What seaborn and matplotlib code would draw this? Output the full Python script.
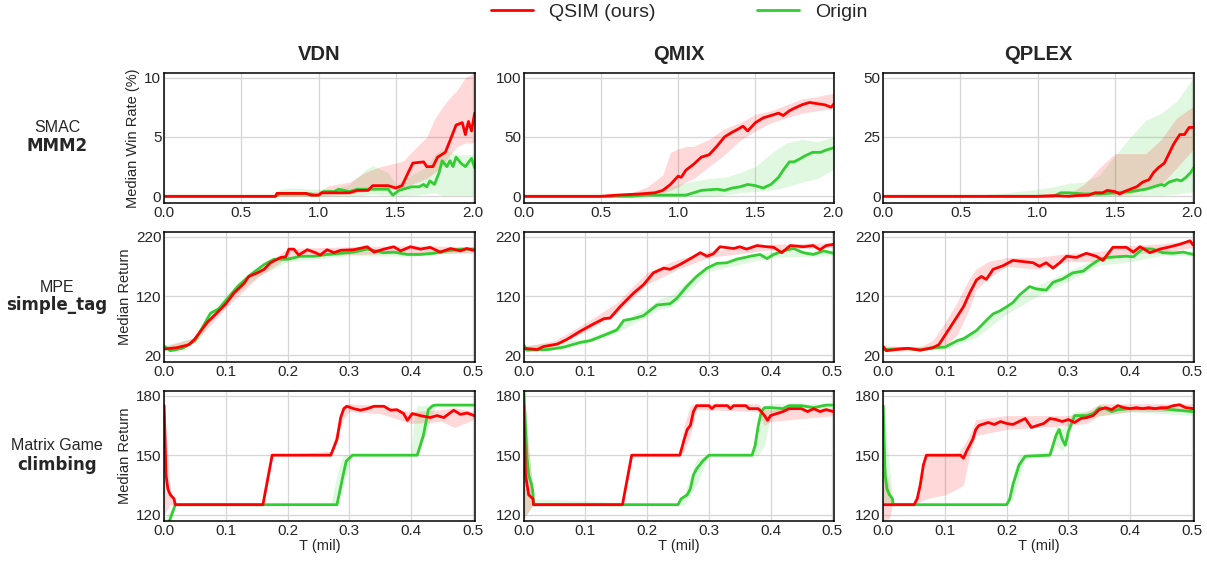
import matplotlib
matplotlib.use("Agg")
import matplotlib.pyplot as plt
from matplotlib.lines import Line2D
import seaborn as sns

# ---------------- SMAC MMM2 (x in mil steps, win rate %) ----------------
smac_vdn_qsim_x = [0, 0.72, 0.73, 0.92, 0.95, 1.0, 1.02, 1.2, 1.25, 1.32, 1.35, 1.45, 1.5, 1.54, 1.58, 1.61,
                   1.68, 1.70, 1.74, 1.77, 1.82, 1.86, 1.89, 1.93, 1.95, 1.97, 1.99, 2.01]
smac_vdn_qsim_y = [0, 0, 0.25, 0.25, 0.1, 0.1, 0.3, 0.3, 0.5, 0.5, 0.9, 0.9, 0.7, 0.9, 2.0, 2.8,
                   2.9, 2.5, 2.5, 3.3, 3.7, 5.0, 6.0, 6.2, 5.2, 6.3, 5.5, 7.0]
smac_vdn_qsim_bx = [0.72, 1.0, 1.07, 1.2, 1.3, 1.4, 1.5, 1.55, 1.6, 1.7, 1.75, 1.8, 1.85, 1.9, 1.95, 2.01]
smac_vdn_qsim_lo = [0, 0.05, 0.1, 0.2, 0.4, 0.6, 0.6, 0.7, 1.0, 1.5, 2.0, 2.5, 3.5, 4.2, 4.5, 4.5]
smac_vdn_qsim_hi = [0.3, 0.4, 0.9, 1.2, 2.0, 2.5, 2.8, 3.0, 3.7, 5.0, 6.5, 7.5, 8.3, 9.0, 10.0, 10.4]
smac_vdn_orig_x = [0, 0.72, 0.75, 0.95, 0.97, 1.0, 1.03, 1.1, 1.13, 1.2, 1.25, 1.45, 1.48, 1.52, 1.6,
                   1.65, 1.68, 1.7, 1.72, 1.75, 1.78, 1.8, 1.83, 1.85, 1.87, 1.89, 1.92, 1.95, 1.99, 2.01]
smac_vdn_orig_y = [0, 0, 0.2, 0.2, 0.1, 0.1, 0.4, 0.4, 0.6, 0.4, 0.6, 0.6, 0.1, 0.5, 0.8,
                   0.8, 1.0, 0.8, 1.3, 1.0, 2.0, 3.0, 2.5, 3.0, 2.5, 3.3, 2.8, 2.5, 3.2, 2.4]
smac_vdn_orig_bx = [0.72, 0.75, 0.8, 1.0, 1.1, 1.2, 1.3, 1.35, 1.45, 1.5, 1.6, 1.7, 1.75, 1.8, 1.9, 2.01]
smac_vdn_orig_lo = [0, 0, 0, 0, 0, 0, 0.1, 0.2, 0.1, 0, 0.1, 0.2, 0.3, 0.1, 0.1, 0.1]
smac_vdn_orig_hi = [0.2, 0.6, 0.7, 0.6, 0.6, 1.0, 2.2, 2.6, 2.0, 1.0, 1.8, 2.5, 3.5, 4.0, 3.5, 3.5]

smac_qmix_qsim_x = [0, 0.5, 0.6, 0.75, 0.85, 0.9, 0.95, 1.0, 1.02, 1.05, 1.1, 1.15, 1.2, 1.25, 1.3, 1.35,
                    1.38, 1.42, 1.45, 1.5, 1.55, 1.6, 1.65, 1.68, 1.72, 1.75, 1.8, 1.85, 1.9, 1.95, 1.99, 2.01]
smac_qmix_qsim_y = [0, 0, 1, 2, 3, 5, 10, 17, 16, 22, 27, 33, 35, 42, 50, 54,
                    56, 59, 55, 62, 66, 68, 70, 68, 72, 74, 77, 79, 78, 77, 75, 78]
smac_qmix_qsim_bx = [0.5, 0.7, 0.8, 0.9, 0.95, 1.0, 1.05, 1.1, 1.2, 1.3, 1.4, 1.5, 1.6, 1.7, 1.8, 1.9, 2.01]
smac_qmix_qsim_lo = [0, 0.5, 1, 3, 5, 8, 12, 15, 25, 35, 47, 55, 62, 66, 70, 72, 74]
smac_qmix_qsim_hi = [0.5, 3, 8, 18, 37, 40, 42, 42, 48, 57, 62, 69, 72, 77, 82, 84, 87]
smac_qmix_orig_x = [0, 0.7, 0.8, 1.05, 1.1, 1.15, 1.25, 1.3, 1.35, 1.4, 1.45, 1.5, 1.55, 1.6, 1.65,
                    1.68, 1.72, 1.75, 1.78, 1.82, 1.87, 1.92, 1.96, 2.01]
smac_qmix_orig_y = [0, 0, 1, 1, 3, 5, 6, 5, 7, 8, 10, 9, 7, 10, 16, 22, 29, 29, 31, 34, 37, 37, 39, 41]
smac_qmix_orig_bx = [0.6, 0.7, 0.8, 0.9, 1.0, 1.1, 1.2, 1.3, 1.4, 1.5, 1.6, 1.7, 1.8, 1.9, 2.01]
smac_qmix_orig_lo = [0, 0, 0, 0, 0, 0, 0, 1, 3, 4, 5, 8, 12, 15, 23]
smac_qmix_orig_hi = [0.5, 1, 4, 6, 10, 13, 15, 16, 20, 25, 36, 45, 48, 46, 50]

smac_qplex_qsim_x = [0, 1.0, 1.1, 1.2, 1.25, 1.33, 1.37, 1.42, 1.45, 1.5, 1.53, 1.56, 1.6, 1.64, 1.68,
                     1.72, 1.75, 1.78, 1.82, 1.85, 1.88, 1.92, 1.95, 1.98, 2.01]
smac_qplex_qsim_y = [0, 0, 0.3, 0, 0.3, 0.5, 1.5, 1.5, 2.5, 2.0, 1.0, 2.0, 3, 4, 6,
                     7, 10, 12, 14, 18, 22, 26, 26, 29, 29]
smac_qplex_qsim_bx = [1.1, 1.2, 1.3, 1.4, 1.5, 1.6, 1.7, 1.8, 1.9, 2.01]
smac_qplex_qsim_lo = [0, 0, 0, 0.3, 0.5, 1, 3, 5, 12, 20]
smac_qplex_qsim_hi = [0.3, 1, 5, 12, 18, 18, 18, 24, 33, 38]
smac_qplex_orig_x = [0, 1.1, 1.15, 1.2, 1.3, 1.4, 1.5, 1.6, 1.7, 1.75, 1.8, 1.82, 1.85, 1.9, 1.93, 1.96, 1.99, 2.01]
smac_qplex_orig_y = [0, 0, 1.5, 1.5, 1.0, 1.0, 1.5, 2, 3, 4, 5, 4.5, 6, 7, 6.5, 8, 10, 12]
smac_qplex_orig_bx = [0.6, 0.8, 1.0, 1.1, 1.2, 1.3, 1.4, 1.5, 1.6, 1.7, 1.8, 1.9, 2.01]
smac_qplex_orig_lo = [0, 0, 0, 0, 0, 0, 0, 0, 0, 0.5, 0.5, 1, 2]
smac_qplex_orig_hi = [0.5, 1.5, 3, 4, 5.5, 6, 9, 17, 25, 32, 35, 40, 50]

# ---------------- MPE simple_tag (median return) ----------------
mpe_vdn_qsim_x = [0, 0.02, 0.04, 0.049, 0.07, 0.081, 0.1, 0.113, 0.13, 0.137, 0.151, 0.162, 0.172, 0.189,
                  0.197, 0.202, 0.21, 0.218, 0.232, 0.245, 0.253, 0.264, 0.275, 0.286, 0.307, 0.329, 0.34,
                  0.356, 0.372, 0.383, 0.399, 0.415, 0.431, 0.447, 0.464, 0.48, 0.49, 0.502]
mpe_vdn_qsim_y = [31, 33, 38, 47, 76, 87, 107, 125, 142, 153, 159, 165, 176, 185,
                  186, 199, 199, 189, 198, 193, 189, 198, 193, 197, 198, 203, 194,
                  199, 203, 196, 203, 199, 202, 194, 200, 196, 200, 197]
mpe_vdn_qsim_bx = [0, 0.05, 0.1, 0.15, 0.2, 0.3, 0.4, 0.502]
mpe_vdn_qsim_lo = [28, 42, 100, 150, 185, 190, 192, 192]
mpe_vdn_qsim_hi = [35, 50, 112, 162, 200, 203, 205, 203]
mpe_vdn_orig_x = [0, 0.01, 0.03, 0.05, 0.075, 0.089, 0.119, 0.14, 0.162, 0.178, 0.2, 0.221, 0.243, 0.264,
                  0.286, 0.307, 0.329, 0.356, 0.372, 0.394, 0.415, 0.437, 0.458, 0.48, 0.502]
mpe_vdn_orig_y = [36, 28, 32, 45, 91, 99, 136, 156, 173, 182, 182, 187, 187, 190,
                  192, 194, 199, 193, 194, 190, 190, 192, 196, 199, 199]
mpe_vdn_orig_bx = [0, 0.05, 0.1, 0.15, 0.2, 0.3, 0.4, 0.502]
mpe_vdn_orig_lo = [27, 42, 110, 152, 178, 188, 187, 195]
mpe_vdn_orig_hi = [37, 50, 122, 165, 186, 196, 194, 202]

mpe_qmix_qsim_x = [0, 0.022, 0.032, 0.054, 0.07, 0.092, 0.113, 0.13, 0.14, 0.156, 0.178, 0.194, 0.21,
                   0.227, 0.237, 0.253, 0.275, 0.286, 0.297, 0.307, 0.318, 0.34, 0.35, 0.361, 0.378,
                   0.394, 0.405, 0.418, 0.432, 0.453, 0.469, 0.48, 0.49, 0.502]
mpe_qmix_qsim_y = [32, 30, 35, 39, 47, 61, 73, 82, 83, 102, 125, 139, 159,
                   167, 165, 173, 186, 193, 187, 191, 203, 200, 203, 199, 205,
                   203, 202, 193, 205, 203, 205, 198, 205, 207]
mpe_qmix_qsim_bx = [0, 0.05, 0.1, 0.15, 0.2, 0.25, 0.3, 0.4, 0.502]
mpe_qmix_qsim_lo = [29, 36, 60, 90, 140, 165, 185, 198, 202]
mpe_qmix_qsim_hi = [35, 45, 75, 108, 160, 182, 195, 207, 210]
mpe_qmix_orig_x = [0, 0.005, 0.04, 0.065, 0.092, 0.108, 0.135, 0.151, 0.162, 0.178, 0.194, 0.205, 0.216,
                   0.237, 0.248, 0.264, 0.28, 0.297, 0.313, 0.329, 0.345, 0.367, 0.383, 0.394, 0.405,
                   0.421, 0.437, 0.453, 0.469, 0.486, 0.502]
mpe_qmix_orig_y = [38, 29, 30, 34, 42, 45, 56, 63, 79, 82, 87, 96, 105,
                   107, 116, 136, 153, 167, 175, 176, 182, 187, 190, 183, 190,
                   196, 200, 193, 190, 196, 192]
mpe_qmix_orig_bx = [0, 0.1, 0.15, 0.18, 0.2, 0.22, 0.24, 0.26, 0.3, 0.4, 0.502]
mpe_qmix_orig_lo = [28, 40, 58, 75, 85, 98, 102, 120, 162, 185, 188]
mpe_qmix_orig_hi = [36, 48, 68, 90, 100, 115, 122, 140, 172, 195, 196]

mpe_qplex_qsim_x = [0, 0.005, 0.02, 0.04, 0.06, 0.08, 0.09, 0.112, 0.13, 0.14, 0.151, 0.159, 0.167, 0.178,
                    0.194, 0.21, 0.227, 0.243, 0.253, 0.264, 0.275, 0.286, 0.297, 0.313, 0.329, 0.345,
                    0.356, 0.372, 0.394, 0.405, 0.416, 0.432, 0.448, 0.465, 0.48, 0.497, 0.502]
mpe_qplex_qsim_y = [35, 28, 30, 32, 29, 33, 38, 73, 102, 125, 147, 153, 148, 165,
                    171, 180, 178, 176, 170, 176, 167, 176, 187, 185, 192, 187,
                    180, 202, 202, 194, 203, 193, 199, 203, 207, 213, 206]
mpe_qplex_qsim_bx = [0, 0.06, 0.08, 0.1, 0.12, 0.14, 0.15, 0.17, 0.2, 0.25, 0.3, 0.35, 0.4, 0.45, 0.502]
mpe_qplex_qsim_lo = [27, 28, 30, 35, 55, 100, 130, 150, 170, 165, 178, 178, 192, 192, 202]
mpe_qplex_qsim_hi = [36, 35, 45, 75, 110, 150, 165, 178, 185, 185, 192, 195, 205, 208, 214]
mpe_qplex_orig_x = [0, 0.04, 0.06, 0.08, 0.1, 0.12, 0.13, 0.151, 0.167, 0.178, 0.189, 0.2, 0.21, 0.221,
                    0.237, 0.248, 0.264, 0.275, 0.291, 0.307, 0.324, 0.335, 0.351, 0.362, 0.378, 0.394,
                    0.405, 0.421, 0.437, 0.453, 0.469, 0.486, 0.502]
mpe_qplex_orig_y = [30, 32, 29, 33, 34, 45, 48, 62, 79, 90, 95, 102, 109, 122,
                    136, 132, 130, 143, 149, 159, 162, 171, 182, 185, 186, 187,
                    186, 200, 199, 193, 192, 194, 190]
mpe_qplex_orig_bx = [0, 0.1, 0.12, 0.15, 0.2, 0.25, 0.3, 0.35, 0.4, 0.45, 0.502]
mpe_qplex_orig_lo = [28, 31, 38, 50, 90, 120, 145, 172, 178, 188, 188]
mpe_qplex_orig_hi = [33, 37, 48, 65, 105, 138, 162, 185, 192, 200, 194]

# ---------------- Matrix Game climbing (median return) ----------------
clb_vdn_qsim_x = [0, 0.003, 0.006, 0.01, 0.016, 0.018, 0.16, 0.175, 0.27, 0.28, 0.286, 0.291, 0.296,
                  0.307, 0.318, 0.329, 0.34, 0.356, 0.367, 0.377, 0.388, 0.394, 0.402, 0.415, 0.431,
                  0.442, 0.453, 0.469, 0.48, 0.491, 0.502]
clb_vdn_qsim_y = [175, 140, 133, 130, 128, 125, 125, 150, 150, 158, 169, 173.5, 174.7,
                  173.5, 172.7, 173.5, 174.7, 174.7, 172.7, 173, 171, 167.6, 171, 170, 169,
                  170, 169, 172.7, 170.6, 171.3, 170]
clb_vdn_qsim_bx = [0, 0.01, 0.018, 0.16, 0.175, 0.27, 0.29, 0.3, 0.35, 0.4, 0.45, 0.47, 0.502]
clb_vdn_qsim_lo = [120, 125, 125, 125, 150, 150, 168, 172, 171, 166, 167, 164, 168]
clb_vdn_qsim_hi = [176, 132, 125, 125, 150, 152, 175, 176, 175, 172, 173, 174, 172]
clb_vdn_orig_x = [0, 0.01, 0.018, 0.28, 0.29, 0.295, 0.305, 0.41, 0.42, 0.428, 0.435, 0.44, 0.502]
clb_vdn_orig_y = [110, 118, 125, 125, 140, 147, 150, 150, 160, 173, 175, 175.3, 175.3]
clb_vdn_orig_bx = [0, 0.018, 0.27, 0.28, 0.29, 0.305, 0.4, 0.405, 0.41, 0.42, 0.44, 0.502]
clb_vdn_orig_lo = [105, 125, 125, 125, 135, 150, 150, 150, 150, 158, 175, 175]
clb_vdn_orig_hi = [118, 125, 125, 140, 150, 150, 150, 170, 175, 175, 175.5, 175.5]

clb_qmix_qsim_x = [0, 0.003, 0.008, 0.015, 0.016, 0.16, 0.175, 0.253, 0.26, 0.265, 0.27, 0.275, 0.28,
                   0.3, 0.305, 0.31, 0.33, 0.335, 0.34, 0.36, 0.365, 0.38, 0.385, 0.39, 0.395, 0.4,
                   0.41, 0.42, 0.43, 0.44, 0.45, 0.46, 0.47, 0.48, 0.49, 0.502]
clb_qmix_qsim_y = [175, 140, 130, 128, 125, 125, 150, 150, 158, 163, 165, 172, 175,
                   175, 173.5, 175, 175, 173.5, 175, 175, 173.5, 173.5, 172, 170, 167.6, 170,
                   171, 172, 173.5, 173.5, 173.5, 172, 173.5, 172, 173, 172]
clb_qmix_qsim_bx = [0, 0.015, 0.016, 0.16, 0.175, 0.253, 0.26, 0.27, 0.28, 0.38, 0.39, 0.4, 0.502]
clb_qmix_qsim_lo = [118, 125, 125, 125, 150, 150, 152, 160, 173, 172, 165, 167, 170]
clb_qmix_qsim_hi = [176, 132, 125, 125, 150, 150, 165, 175, 176, 176, 173, 173, 174]
clb_qmix_orig_x = [0, 0.005, 0.008, 0.013, 0.015, 0.016, 0.25, 0.255, 0.265, 0.27, 0.275, 0.28, 0.29,
                   0.3, 0.37, 0.375, 0.38, 0.385, 0.39, 0.4, 0.42, 0.43, 0.45, 0.47, 0.49, 0.502]
clb_qmix_orig_y = [185, 150, 140, 135, 131, 125, 125, 128, 130, 133, 140, 143, 147,
                   150, 150, 155, 165, 172, 174, 174, 173.5, 175, 175, 174, 175.3, 175.3]
clb_qmix_orig_bx = [0, 0.016, 0.25, 0.26, 0.28, 0.3, 0.37, 0.38, 0.39, 0.4, 0.42, 0.502]
clb_qmix_orig_lo = [118, 125, 125, 125, 135, 150, 150, 150, 155, 170, 173, 174]
clb_qmix_orig_hi = [185, 128, 125, 130, 148, 150, 150, 165, 175, 176, 176, 176]

clb_qplex_qsim_x = [0, 0.05, 0.055, 0.06, 0.065, 0.07, 0.125, 0.13, 0.135, 0.14, 0.145, 0.15, 0.155,
                    0.17, 0.18, 0.19, 0.2, 0.21, 0.22, 0.23, 0.24, 0.25, 0.26, 0.27, 0.28, 0.29, 0.3,
                    0.31, 0.32, 0.33, 0.34, 0.35, 0.36, 0.37, 0.38, 0.39, 0.4, 0.41, 0.42, 0.43, 0.44,
                    0.45, 0.46, 0.47, 0.48, 0.49, 0.502]
clb_qplex_qsim_y = [125, 125, 128, 135, 145, 150, 150, 148.5, 152, 155, 158, 163, 165,
                    166.5, 165.5, 167, 166, 165.5, 167, 168.5, 164, 165, 166, 168.5, 168, 167, 168,
                    166.5, 168.5, 169, 170, 173, 174, 173, 175, 174, 173.5, 174, 173.5, 174, 173.5,
                    174, 174, 175, 175.5, 174, 173.5]
clb_qplex_qsim_bx = [0, 0.01, 0.015, 0.05, 0.07, 0.1, 0.12, 0.13, 0.14, 0.15, 0.2, 0.3, 0.33, 0.35, 0.4, 0.502]
clb_qplex_qsim_lo = [117, 118, 125, 125, 128, 130, 133, 135, 150, 160, 163, 165, 166, 170, 172, 172]
clb_qplex_qsim_hi = [150, 135, 125, 125, 150, 150, 150, 155, 160, 168, 170, 170, 172, 176, 176, 176]
clb_qplex_orig_x = [0, 0.003, 0.006, 0.01, 0.015, 0.016, 0.2, 0.205, 0.21, 0.22, 0.23, 0.27, 0.28, 0.285,
                    0.29, 0.295, 0.3, 0.31, 0.33, 0.34, 0.35, 0.36, 0.37, 0.38, 0.4, 0.45, 0.502]
clb_qplex_orig_y = [175, 140, 133, 130, 128, 125, 125, 128, 135, 145, 149.5, 150, 160, 163,
                    158, 155, 162, 170, 170, 171, 174, 173.5, 172, 173, 173.5, 173.5, 172]
clb_qplex_orig_bx = [0, 0.016, 0.2, 0.21, 0.22, 0.23, 0.27, 0.28, 0.29, 0.3, 0.31, 0.4, 0.502]
clb_qplex_orig_lo = [125, 125, 125, 128, 138, 148, 150, 155, 152, 160, 168, 172, 170]
clb_qplex_orig_hi = [176, 126, 125, 140, 150, 150, 152, 165, 163, 168, 172, 174, 174]

col_titles = ["VDN", "QMIX", "QPLEX"]
row_env = ["SMAC", "MPE", "Matrix Game"]
row_task = ["MMM2", "simple_tag", "climbing"]
row_ylabels = ["Median Win Rate (%)", "Median Return", "Median Return"]
smac_yticks = [[0, 5, 10], [0, 50, 100], [0, 25, 50]]
mpe_yticks = [20, 120, 220]
clb_yticks = [120, 150, 180]
legend_labels = ["QSIM (ours)", "Origin"]

RED = "#ff0000"
GREEN = "#32cd32"

sns.set_style("whitegrid")
plt.rcParams["font.family"] = ["Liberation Sans", "DejaVu Sans"]
plt.rcParams["text.color"] = "#262626"

fig, axes = plt.subplots(3, 3, figsize=(12.07, 5.64), dpi=100)
fig.subplots_adjust(left=0.136, right=0.989, top=0.871, bottom=0.076, wspace=0.158, hspace=0.223)

panels = [
    [(smac_vdn_qsim_x, smac_vdn_qsim_y, smac_vdn_qsim_bx, smac_vdn_qsim_lo, smac_vdn_qsim_hi,
      smac_vdn_orig_x, smac_vdn_orig_y, smac_vdn_orig_bx, smac_vdn_orig_lo, smac_vdn_orig_hi),
     (smac_qmix_qsim_x, smac_qmix_qsim_y, smac_qmix_qsim_bx, smac_qmix_qsim_lo, smac_qmix_qsim_hi,
      smac_qmix_orig_x, smac_qmix_orig_y, smac_qmix_orig_bx, smac_qmix_orig_lo, smac_qmix_orig_hi),
     (smac_qplex_qsim_x, smac_qplex_qsim_y, smac_qplex_qsim_bx, smac_qplex_qsim_lo, smac_qplex_qsim_hi,
      smac_qplex_orig_x, smac_qplex_orig_y, smac_qplex_orig_bx, smac_qplex_orig_lo, smac_qplex_orig_hi)],
    [(mpe_vdn_qsim_x, mpe_vdn_qsim_y, mpe_vdn_qsim_bx, mpe_vdn_qsim_lo, mpe_vdn_qsim_hi,
      mpe_vdn_orig_x, mpe_vdn_orig_y, mpe_vdn_orig_bx, mpe_vdn_orig_lo, mpe_vdn_orig_hi),
     (mpe_qmix_qsim_x, mpe_qmix_qsim_y, mpe_qmix_qsim_bx, mpe_qmix_qsim_lo, mpe_qmix_qsim_hi,
      mpe_qmix_orig_x, mpe_qmix_orig_y, mpe_qmix_orig_bx, mpe_qmix_orig_lo, mpe_qmix_orig_hi),
     (mpe_qplex_qsim_x, mpe_qplex_qsim_y, mpe_qplex_qsim_bx, mpe_qplex_qsim_lo, mpe_qplex_qsim_hi,
      mpe_qplex_orig_x, mpe_qplex_orig_y, mpe_qplex_orig_bx, mpe_qplex_orig_lo, mpe_qplex_orig_hi)],
    [(clb_vdn_qsim_x, clb_vdn_qsim_y, clb_vdn_qsim_bx, clb_vdn_qsim_lo, clb_vdn_qsim_hi,
      clb_vdn_orig_x, clb_vdn_orig_y, clb_vdn_orig_bx, clb_vdn_orig_lo, clb_vdn_orig_hi),
     (clb_qmix_qsim_x, clb_qmix_qsim_y, clb_qmix_qsim_bx, clb_qmix_qsim_lo, clb_qmix_qsim_hi,
      clb_qmix_orig_x, clb_qmix_orig_y, clb_qmix_orig_bx, clb_qmix_orig_lo, clb_qmix_orig_hi),
     (clb_qplex_qsim_x, clb_qplex_qsim_y, clb_qplex_qsim_bx, clb_qplex_qsim_lo, clb_qplex_qsim_hi,
      clb_qplex_orig_x, clb_qplex_orig_y, clb_qplex_orig_bx, clb_qplex_orig_lo, clb_qplex_orig_hi)],
]

for r in range(3):
    for c in range(3):
        ax = axes[r, c]
        qx, qy, qbx, qlo, qhi, ox, oy, obx, olo, ohi = panels[r][c]
        # bands first, then origin line, then ours on top
        ax.fill_between(obx, olo, ohi, color=GREEN, alpha=0.15, lw=0)
        ax.fill_between(qbx, qlo, qhi, color=RED, alpha=0.15, lw=0)
        sns.lineplot(x=ox, y=oy, ax=ax, color=GREEN, lw=2, estimator=None)
        sns.lineplot(x=qx, y=qy, ax=ax, color=RED, lw=2, estimator=None)

        if r == 0:
            ticks = smac_yticks[c]
            ax.set_xlim(0, 2.01)
            ax.set_xticks([0.0, 0.5, 1.0, 1.5, 2.0])
            ax.set_title(col_titles[c], fontweight="bold", fontsize=14.5, pad=9)
        elif r == 1:
            ticks = mpe_yticks
            ax.set_xlim(0, 0.503)
            ax.set_xticks([0.0, 0.1, 0.2, 0.3, 0.4, 0.5])
        else:
            ticks = clb_yticks
            ax.set_xlim(0, 0.503)
            ax.set_xticks([0.0, 0.1, 0.2, 0.3, 0.4, 0.5])
            ax.set_xlabel("T (mil)", fontsize=10.5, labelpad=1)
        span = ticks[-1] - ticks[0]
        ax.set_ylim(ticks[0] - 0.055 * span, ticks[-1] + 0.04 * span)
        ax.set_yticks(ticks)
        ax.set_xticklabels([f"{t:.1f}" for t in ax.get_xticks()])
        if c == 0:
            ax.set_ylabel(row_ylabels[r], fontsize=10.5, labelpad=3)
        else:
            ax.set_ylabel("")
        if r < 2:
            ax.set_xlabel("")
        ax.tick_params(labelsize=11, colors="#262626", pad=2, length=0)
        ax.grid(True, color="#d6d6d6", lw=0.9)
        for s in ax.spines.values():
            s.set_color("black")
            s.set_linewidth(1.1)

row_y = [(128, 146), (287, 305), (446, 465)]
for r in range(3):
    fig.text(57 / 1207, 1 - row_y[r][0] / 564, row_env[r], ha="center", va="center", fontsize=11.5)
    fig.text(57 / 1207, 1 - row_y[r][1] / 564, row_task[r], ha="center", va="center", fontsize=12,
             fontweight="bold", family="DejaVu Sans")

handles = [Line2D([], [], color=RED, lw=2), Line2D([], [], color=GREEN, lw=2)]
fig.legend(handles, legend_labels, loc="upper center", bbox_to_anchor=(679 / 1207, 1.025), ncol=2,
           frameon=False, fontsize=14, handlelength=2.2, handletextpad=0.8, columnspacing=5.2)

fig.savefig("out.png", dpi=100)
